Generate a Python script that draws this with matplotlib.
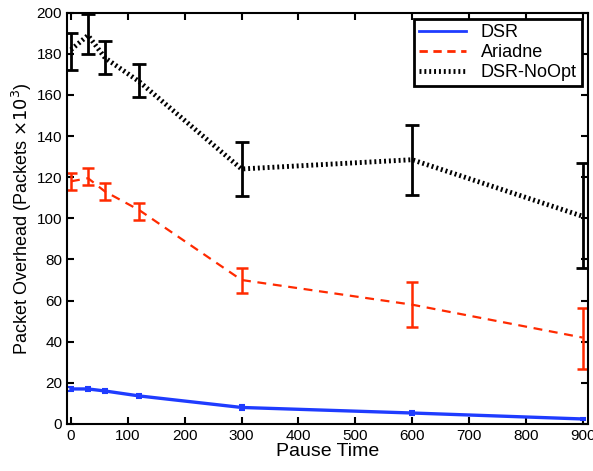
import matplotlib
matplotlib.use("Agg")
import matplotlib.pyplot as plt
from matplotlib.lines import Line2D

plt.rcParams['font.family'] = ['Liberation Sans', 'DejaVu Sans']

pause = [0, 30, 60, 120, 300, 600, 900]

dsr = [17, 17, 16, 13.6, 8, 5.3, 2.4]
dsr_err = [1, 1, 1, 1, 1, 0.8, 0.6]

ariadne = [118, 119.5, 113, 104, 70, 58, 42]
ariadne_lo = [114, 116, 109, 99, 63.7, 47, 26.7]
ariadne_hi = [122, 124.5, 117, 107.6, 76, 69, 56.4]

noopt = [182, 189, 178, 166.5, 124, 128.5, 101]
noopt_lo = [172, 180, 170, 159, 111, 111.5, 76]
noopt_hi = [190, 199.5, 186, 175, 137, 145.5, 127]

blue, red = '#1f3cff', '#ff2a00'
noopt_ls = (0, (0.4, 0.6))

fig = plt.figure(figsize=(5.93, 4.71), dpi=100)
ax = fig.add_axes([0.113, 0.1, 0.879, 0.873])

ax.errorbar(pause, dsr, yerr=dsr_err, color=blue, lw=2.4, capsize=2,
            elinewidth=1.5, capthick=1.5)
ax.errorbar(pause, ariadne,
            yerr=[[a - l for a, l in zip(ariadne, ariadne_lo)],
                  [h - a for a, h in zip(ariadne, ariadne_hi)]],
            color=red, lw=1.6, ls=(0, (4, 3)), capsize=4,
            elinewidth=1.8, capthick=1.8)
ax.errorbar(pause, noopt,
            yerr=[[a - l for a, l in zip(noopt, noopt_lo)],
                  [h - a for a, h in zip(noopt, noopt_hi)]],
            color='black', lw=3.5, ls=noopt_ls, capsize=5,
            elinewidth=2, capthick=2)

ax.set_xlim(-7, 910)
ax.set_ylim(0, 200)
ax.set_xticks(range(0, 901, 100))
ax.set_yticks(range(0, 201, 20))
ax.tick_params(direction='in', top=True, right=True, labelsize=11, length=5, width=1.5)
for s in ax.spines.values():
    s.set_linewidth(1.5)

ax.set_xlabel('Pause Time', fontsize=14, labelpad=0)
ax.set_ylabel('Packet Overhead (Packets $\\times 10^3$)', fontsize=13, labelpad=2)

handles = [Line2D([], [], color=blue, lw=2),
           Line2D([], [], color=red, lw=2, ls=(0, (3, 2))),
           Line2D([], [], color='black', lw=3.5, ls=noopt_ls)]
leg = ax.legend(handles, ['DSR', 'Ariadne', 'DSR-NoOpt'], loc='upper right',
                fontsize=13, fancybox=False, framealpha=1, borderaxespad=0.35,
                handlelength=2.6, labelspacing=0.15, borderpad=0.3)
leg.get_frame().set_edgecolor('black')
leg.get_frame().set_linewidth(2)

fig.savefig('out.png', dpi=100)
